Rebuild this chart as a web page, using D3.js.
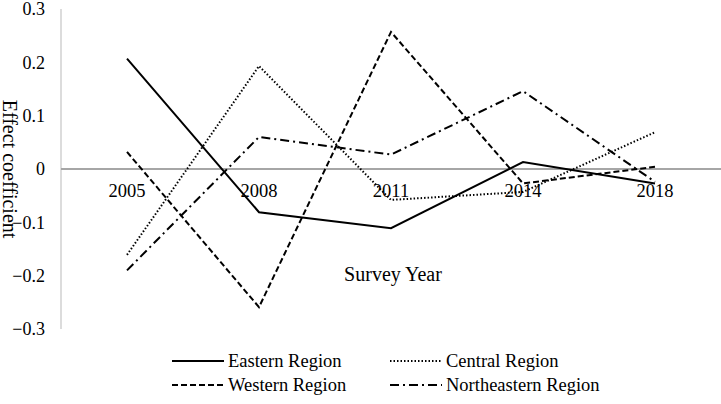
<!DOCTYPE html>
<html>
<head>
<meta charset="utf-8">
<script src="https://cdn.jsdelivr.net/npm/d3@7"></script>
<style>
  html, body { margin: 0; padding: 0; background: #fff; }
  svg { display: block; font-family: "Liberation Serif", "Times New Roman", serif; fill: #000; }
</style>
</head>
<body>
<svg id="chart" width="721" height="404"></svg>
<script>
// data
const years = ["2005", "2008", "2011", "2014", "2018"];
const eastern = [0.207, -0.081, -0.111, 0.013, -0.027];
const central = [-0.161, 0.193, -0.058, -0.043, 0.069];
const western = [0.032, -0.259, 0.257, -0.027, 0.004];
const northeastern = [-0.190, 0.060, 0.027, 0.146, -0.024];
const yTicks = [0.3, 0.2, 0.1, 0, -0.1, -0.2, -0.3];

const series = [
  { name: "Eastern Region", values: eastern, dash: null },
  { name: "Central Region", values: central, dash: "1.5,2" },
  { name: "Western Region", values: western, dash: "6,3" },
  { name: "Northeastern Region", values: northeastern, dash: "9,4,2,4" }
];

const svg = d3.select("#chart");

const x = d3.scaleBand().domain(years).range([61, 721]);
const y = d3.scaleLinear().domain([-0.3, 0.3]).range([329, 9]);

// y axis line
svg.append("line")
  .attr("x1", 61).attr("x2", 61)
  .attr("y1", y(0.3)).attr("y2", y(-0.3))
  .attr("stroke", "#d0d0d0").attr("stroke-width", 1.5);

// zero line
svg.append("line")
  .attr("x1", 61).attr("x2", 721)
  .attr("y1", y(0)).attr("y2", y(0))
  .attr("stroke", "#a6a6a6").attr("stroke-width", 2);

// y tick labels
svg.append("g").selectAll("text")
  .data(yTicks)
  .join("text")
  .attr("x", 45)
  .attr("y", d => y(d))
  .attr("dy", "0.35em")
  .attr("text-anchor", "end")
  .attr("font-size", 18)
  .text(d => d === 0 ? "0" : d3.format(".1f")(d));

// x category labels sit under the zero line
svg.append("g").selectAll("text")
  .data(years)
  .join("text")
  .attr("x", d => x(d) + x.bandwidth() / 2)
  .attr("y", 197)
  .attr("text-anchor", "middle")
  .attr("font-size", 18.5)
  .text(d => d);

// axis titles
svg.append("text")
  .attr("transform", "translate(3,169) rotate(90)")
  .attr("text-anchor", "middle")
  .attr("font-size", 20)
  .text("Effect coefficient");

svg.append("text")
  .attr("x", 393).attr("y", 281)
  .attr("text-anchor", "middle")
  .attr("font-size", 20)
  .text("Survey Year");

// lines
const line = d3.line()
  .x((d, i) => x(years[i]) + x.bandwidth() / 2)
  .y(d => y(d));

svg.append("g").selectAll("path")
  .data(series)
  .join("path")
  .attr("d", d => line(d.values))
  .attr("fill", "none")
  .attr("stroke", "#000")
  .attr("stroke-width", 2)
  .attr("stroke-dasharray", d => d.dash);

// legend, two columns by two rows
const lg = svg.append("g").selectAll("g")
  .data(series)
  .join("g")
  .attr("transform", (d, i) => `translate(${i % 2 ? 390 : 172},${i < 2 ? 361 : 385})`);

lg.append("line")
  .attr("x1", 0).attr("x2", 52)
  .attr("stroke", "#000")
  .attr("stroke-width", 2)
  .attr("stroke-dasharray", d => d.dash);

lg.append("text")
  .attr("x", 56)
  .attr("dy", "0.35em")
  .attr("font-size", 18.5)
  .text(d => d.name);
</script>
</body>
</html>
